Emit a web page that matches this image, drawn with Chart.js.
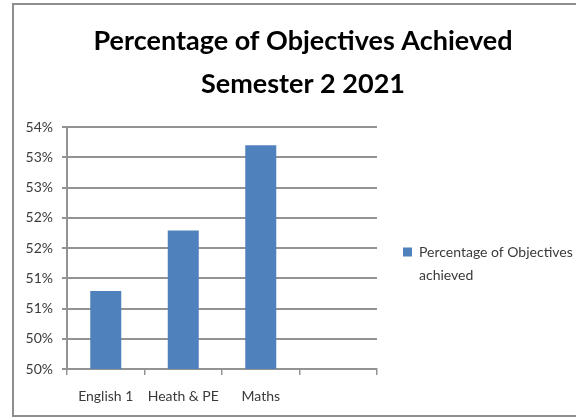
<!DOCTYPE html>
<html>
<head>
<meta charset="utf-8">
<script src="https://cdn.jsdelivr.net/npm/chart.js@4/dist/chart.umd.min.js"></script>
<style>
  html, body { margin: 0; padding: 0; overflow: hidden; background: #fff; width: 576px; height: 418px; }
  #frame { position: absolute; left: 12px; top: 3px; width: 584px; height: 410px; border: 2px solid #8e8e8e; background: #fff; }
  canvas { display: block; }
</style>
</head>
<body>
<div id="frame"><canvas id="c" width="584" height="410"></canvas></div>
<script>
const categories = ['English 1', 'Heath & PE', 'Maths', ''];
const objectivesAchieved = [51.29, 52.29, 53.70, null];
const yTickLabels = ['50%', '50%', '51%', '51%', '52%', '52%', '53%', '53%', '54%'];
const seriesLabel = 'Percentage of Objectives achieved';
const legendLines = ['Percentage of Objectives', 'achieved'];
const titleLines = ['Percentage of Objectives Achieved', 'Semester 2 2021'];

const FONT = 'Lato';
const GRID = '#939393';
const TXT = '#3a3a3a';

new Chart(document.getElementById('c'), {
  type: 'bar',
  data: {
    labels: categories,
    datasets: [{
      label: seriesLabel,
      data: objectivesAchieved,
      backgroundColor: '#4F81BD',
      borderWidth: 0,
      barPercentage: 0.4,
      categoryPercentage: 1.0
    }]
  },
  options: {
    responsive: false,
    animation: false,
    devicePixelRatio: 1,
    layout: { padding: { left: 12, right: 18, top: 0, bottom: 0 } },
    plugins: {
      title: {
        display: true,
        text: titleLines,
        color: '#000',
        font: { family: FONT, size: 27, weight: 'bold', lineHeight: 43 / 27 },
        padding: { top: 14.5, bottom: 21.5 }
      },
      legend: {
        position: 'right',
        fullSize: false,
        maxWidth: 203,
        title: { display: true, text: ' ', font: { size: 12, lineHeight: 1.2 }, padding: 12.8 },
        labels: {
          boxWidth: 9,
          boxHeight: 9,
          padding: 26,
          color: TXT,
          font: { family: FONT, size: 14, lineHeight: 23 / 14 },
          generateLabels: (chart) => {
            const items = Chart.defaults.plugins.legend.labels.generateLabels(chart);
            return items.map(it => Object.assign(it, { text: legendLines }));
          }
        }
      },
      tooltip: { enabled: false }
    },
    scales: {
      x: {
        offset: true,
        afterFit: (s) => { s.height = 46; },
        grid: { display: true, offset: true, drawOnChartArea: false, drawTicks: true, tickLength: 6, color: GRID, lineWidth: 1.5 },
        border: { display: true, color: GRID, width: 2 },
        ticks: { color: TXT, padding: 13, font: { family: FONT, size: 14 }, maxRotation: 0, autoSkip: false }
      },
      y: {
        min: 50,
        max: 54,
        afterFit: (s) => { s.width = 41; },
        ticks: {
          stepSize: 0.5,
          color: TXT,
          padding: 9,
          font: { family: FONT, size: 14 },
          callback: (v, i) => yTickLabels[i]
        },
        grid: { color: GRID, lineWidth: 2, tickLength: 5, drawTicks: true },
        border: { display: true, color: GRID, width: 2 }
      }
    }
  }
});
</script>
</body>
</html>
